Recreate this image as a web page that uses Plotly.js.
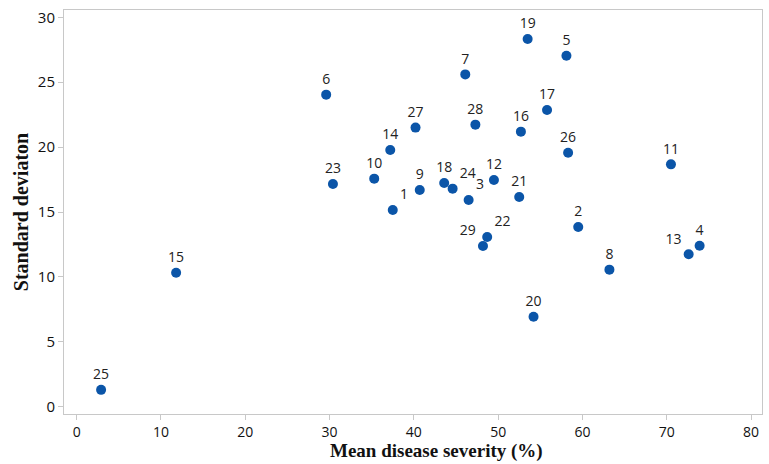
<!DOCTYPE html>
<html>
<head>
<meta charset="utf-8">
<script src="https://cdn.plot.ly/plotly-3.0.1.min.js"></script>
<style>html,body{margin:0;padding:0;background:#fff;}#chart{width:769px;height:464px;}</style>
</head>
<body>
<div id="chart"></div>
<script>
const ids = ["1","2","3","4","5","6","7","8","9","10","11","12","13","14","15","16","17","18","19","20","21","22","23","24","25","26","27","28","29"];
const meanSeverity = [37.5,59.5,46.5,73.9,58.1,29.6,46.1,63.2,40.7,35.3,70.5,49.5,72.6,37.2,11.8,52.7,55.8,43.6,53.5,54.2,52.5,48.7,30.4,44.6,2.9,58.3,40.2,47.3,48.2];
const stdDev = [15.15,13.84,15.92,12.4,27.04,24.04,25.6,10.56,16.7,17.57,18.67,17.47,11.74,19.78,10.32,21.19,22.86,17.23,28.33,6.93,16.16,13.07,17.16,16.8,1.3,19.57,21.5,21.73,12.38];
const labelPos = ["top right","top center","top right","top center","top center","top center","top center","top center","top center","top center","top center","top center","top left","top center","top center","top center","top center","top center","top center","top center","top center","top right","top center","top right","top center","top center","top center","top center","top left"];
const xTitle = "Mean disease severity (%)";
const yTitle = "Standard deviaton";

const trace = {
  type: "scatter",
  mode: "markers+text",
  x: meanSeverity,
  y: stdDev,
  text: ids,
  textposition: labelPos,
  textfont: {family: "Open Sans, Noto Sans, sans-serif", size: 14, color: "#222"},
  marker: {color: "#0b55a8", size: 10},
  hoverinfo: "x+y+text",
  cliponaxis: false
};

const axisCommon = {
  showline: true, mirror: true, linecolor: "#c8c8c8", linewidth: 1,
  ticks: "outside", ticklen: 5, tickcolor: "#c8c8c8",
  showgrid: false, zeroline: false,
  tickfont: {family: "Open Sans, Noto Sans, sans-serif", size: 15, color: "#111"}
};

const layout = {
  width: 769, height: 464,
  margin: {l: 64, r: 7, t: 10, b: 50},
  paper_bgcolor: "#fff", plot_bgcolor: "#fff",
  showlegend: false,
  xaxis: Object.assign({}, axisCommon, {
    range: [-1.5, 81.3], tickvals: [0,10,20,30,40,50,60,70,80],
    tickfont: {family: "Open Sans, Noto Sans, sans-serif", size: 14, color: "#111"}
  }),
  yaxis: Object.assign({}, axisCommon, {
    range: [-0.56, 30.56], tickvals: [0,5,10,15,20,25,30],
    title: {text: yTitle, font: {family: "Liberation Serif, Times New Roman, serif", size: 20, color: "#111", weight: "bold"}, standoff: 3}
  }),
  annotations: [{
    text: xTitle, xref: "paper", yref: "paper", x: 0.533, y: -0.1213,
    xanchor: "center", yanchor: "bottom", showarrow: false, borderpad: 0,
    font: {family: "Liberation Serif, Times New Roman, serif", size: 19, color: "#111", weight: "bold"}
  }]
};

Plotly.newPlot("chart", [trace], layout, {displayModeBar: false, staticPlot: true});
</script>
</body>
</html>
